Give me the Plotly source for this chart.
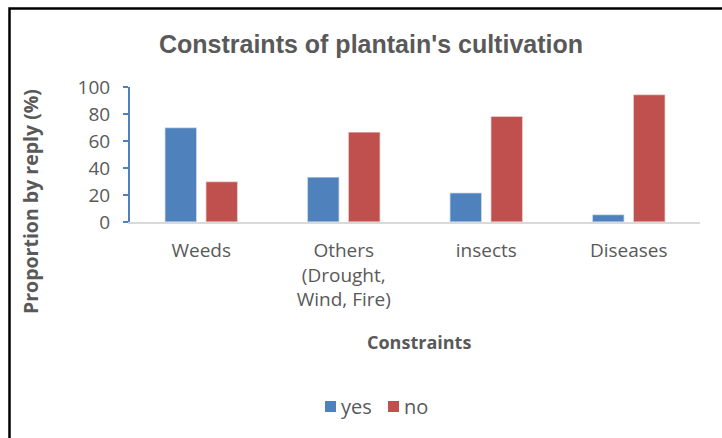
import plotly.graph_objects as go

# Survey replies on constraints of plantain cultivation (% of respondents)
categories = ["Weeds", "Others<br>(Drought,<br>Wind, Fire)", "insects", "Diseases"]
yes_values = [70.0, 33.3, 21.7, 5.6]
no_values = [30.0, 66.7, 78.3, 94.4]
y_ticks = [0, 20, 40, 60, 80, 100]
series_names = ["yes", "no"]

BLUE = "#4F81BD"
RED = "#C0504D"
GREY_TEXT = "#595959"
FONT = "Open Sans"
BAR_EDGE = dict(color="rgba(255,255,255,0.55)", width=1.5)

fig = go.Figure()
fig.add_trace(go.Bar(x=categories, y=yes_values, name=series_names[0],
                     marker=dict(color=BLUE, line=BAR_EDGE)))
fig.add_trace(go.Bar(x=categories, y=no_values, name=series_names[1],
                     marker=dict(color=RED, line=BAR_EDGE)))

W, H = 722, 438
L, R, T, B = 130, 22, 87, 216
pw, ph = W - L - R, H - T - B


def px_x(x):
    return (x - L) / pw


def px_y(y):
    return (H - B - y) / ph


# compact legend: small square swatch followed closely by the series name
legend_shapes, legend_notes = [], []
for name, color, x0 in [(series_names[0], BLUE, 325), (series_names[1], RED, 388)]:
    legend_shapes.append(dict(
        type="rect", xref="paper", yref="paper",
        x0=px_x(x0), x1=px_x(x0 + 11), y0=px_y(412), y1=px_y(401),
        line=dict(width=0), fillcolor=color))
    legend_notes.append(dict(
        text=name, x=px_x(x0 + 14), y=px_y(406), xref="paper", yref="paper",
        showarrow=False, xanchor="left", yanchor="middle",
        font=dict(family=FONT, size=20, color=GREY_TEXT)))

fig.update_layout(
    width=W, height=H,
    margin=dict(l=L, r=R, t=T, b=B, pad=0),
    paper_bgcolor="white", plot_bgcolor="white",
    barmode="group", bargap=0.425, bargroupgap=0.22,
    font=dict(family=FONT, color=GREY_TEXT, size=19),
    title=dict(
        text="<b>Constraints of plantain's cultivation</b>",
        font=dict(family="Liberation Sans, Arial", size=25, color=GREY_TEXT),
        x=px_x(371), xref="paper", xanchor="center",
        y=1 - 44 / H, yanchor="middle",
    ),
    showlegend=False,
    xaxis=dict(
        showline=True, linecolor="#D9D9D9", linewidth=2,
        ticks="", showgrid=False, ticklabelstandoff=10,
        tickfont=dict(family=FONT, size=19, color=GREY_TEXT),
    ),
    yaxis=dict(
        range=[0, 100], tickvals=y_ticks, showgrid=False, zeroline=False,
        showline=True, linecolor=BLUE, linewidth=2,
        ticks="outside", ticklen=5, tickcolor=BLUE, tickwidth=2,
        ticklabelstandoff=9,
        tickfont=dict(family=FONT, size=19, color=GREY_TEXT),
    ),
    annotations=[
        dict(text="<b>Proportion by reply (%)</b>", textangle=-90,
             x=px_x(30), y=px_y(202), xref="paper", yref="paper",
             showarrow=False, xanchor="center", yanchor="middle",
             font=dict(family=FONT, size=19.5, color=GREY_TEXT)),
        dict(text="<b>Constraints</b>",
             x=px_x(419), y=px_y(342), xref="paper", yref="paper",
             showarrow=False, xanchor="center", yanchor="middle",
             font=dict(family=FONT, size=18, color=GREY_TEXT)),
    ] + legend_notes,
    shapes=[
        dict(type="rect", xref="paper", yref="paper",
             x0=px_x(9.5), x1=px_x(760), y0=px_y(480), y1=px_y(8.5),
             line=dict(color="black", width=2.5), fillcolor="rgba(0,0,0,0)",
             layer="below"),
    ] + legend_shapes,
)

fig.write_html("out.html")
